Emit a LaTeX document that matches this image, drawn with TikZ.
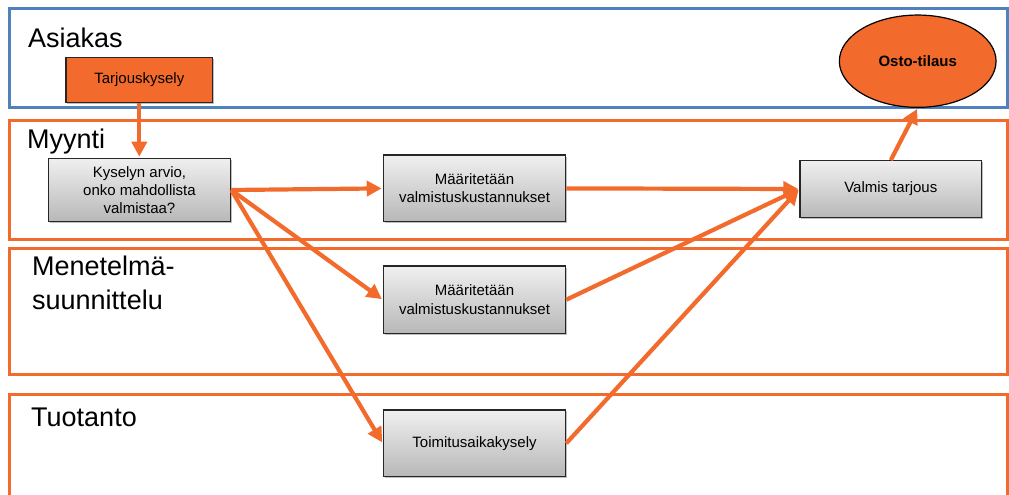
\documentclass[tikz,border=0pt]{standalone}
\usepackage{fontspec}
\setmainfont{Liberation Sans}
\usetikzlibrary{arrows.meta,shapes.geometric,shadows}
\definecolor{orng}{HTML}{F26B2C}
\definecolor{laneblue}{HTML}{4F81BD}
\tikzset{
  lane/.style={draw=orng, line width=3pt},
  bluelane/.style={draw=laneblue, line width=3pt},
  lanelabel/.style={anchor=base west, inner sep=0pt, align=left,
    font=\fontsize{27}{34}\selectfont},
  boxshadow/.style={drop shadow={shadow xshift=1.5pt, shadow yshift=-1.5pt,
    fill=black, opacity=0.25}},
  stepbox/.style={rectangle, draw=black!85, line width=1.2pt, inner sep=2pt,
    top color=black!6, bottom color=black!28, boxshadow,
    align=center, font=\fontsize{15}{18.3}\selectfont,
    minimum width=182.4pt},
  inbox/.style={rectangle, draw=black!85, line width=1.2pt, fill=orng,
    boxshadow, font=\fontsize{15}{18}\selectfont},
  orderoval/.style={ellipse, draw=black, line width=1.2pt, fill=orng,
    inner sep=0pt, font=\bfseries\fontsize{15}{18}\selectfont},
  flowarrow/.style={draw=orng, line width=4.2pt,
    -{Triangle[length=15pt,width=15pt]}, shorten >=1pt},
}
\begin{document}
\begin{tikzpicture}[x=1pt, y=-1pt]
  \useasboundingbox (0,0) rectangle (1009,495);

  % swimlanes
  \draw[bluelane] (9,9) rectangle (1007,107);
  \draw[lane] (9,120) rectangle (1007,239);
  \draw[lane] (9,248) rectangle (1007,374);
  \draw[lane] (9,394) rectangle (1007,520);

  \node[lanelabel] (lAsiakas) at (28,48) {Asiakas};
  \node[lanelabel] (lMyynti) at (27,148) {Myynti};
  \node[lanelabel] (lMenetelma) at (32,309) {Menetelmä-\\suunnittelu};
  \node[lanelabel] (lTuotanto) at (31,426) {Tuotanto};

  % process steps
  \node[inbox, minimum width=146.7pt, minimum height=44.6pt] (tarj)
    at (139.3,80) {Tarjouskysely};
  \node[stepbox, minimum height=63.4pt] (kys)
    at (139.5,190) {Kyselyn arvio,\\onko mahdollista\\valmistaa?};
  \node[stepbox, minimum height=66.7pt] (m1)
    at (474.5,188.4) {Määritetään\\valmistuskustannukset};
  \node[stepbox, minimum height=67.3pt] (m2)
    at (474.5,299.7) {Määritetään\\valmistuskustannukset};
  \node[stepbox, minimum height=66.7pt] (toim)
    at (474.5,443.3) {Toimitusaikakysely};
  \node[stepbox, minimum width=181.7pt, minimum height=56.6pt] (valm)
    at (890.8,189) {Valmis tarjous};
  \node[orderoval, minimum width=156.7pt, minimum height=92.3pt] (osto)
    at (917.7,61.2) {Osto-tilaus};

  % flow
  \draw[flowarrow] (tarj.south) -- (tarj.south |- kys.north);
  \draw[flowarrow] (kys.east) -- (m1.west);
  \draw[flowarrow] (kys.east) -- (m2.west);
  \draw[flowarrow] (kys.east) -- (toim.west);
  \draw[flowarrow] (m1.east) -- (valm.west);
  \draw[flowarrow] (m2.east) -- (valm.west);
  \draw[flowarrow] (toim.east) -- (valm.west);
  \draw[flowarrow] (valm.north) -- (osto.south);
\end{tikzpicture}
\end{document}
